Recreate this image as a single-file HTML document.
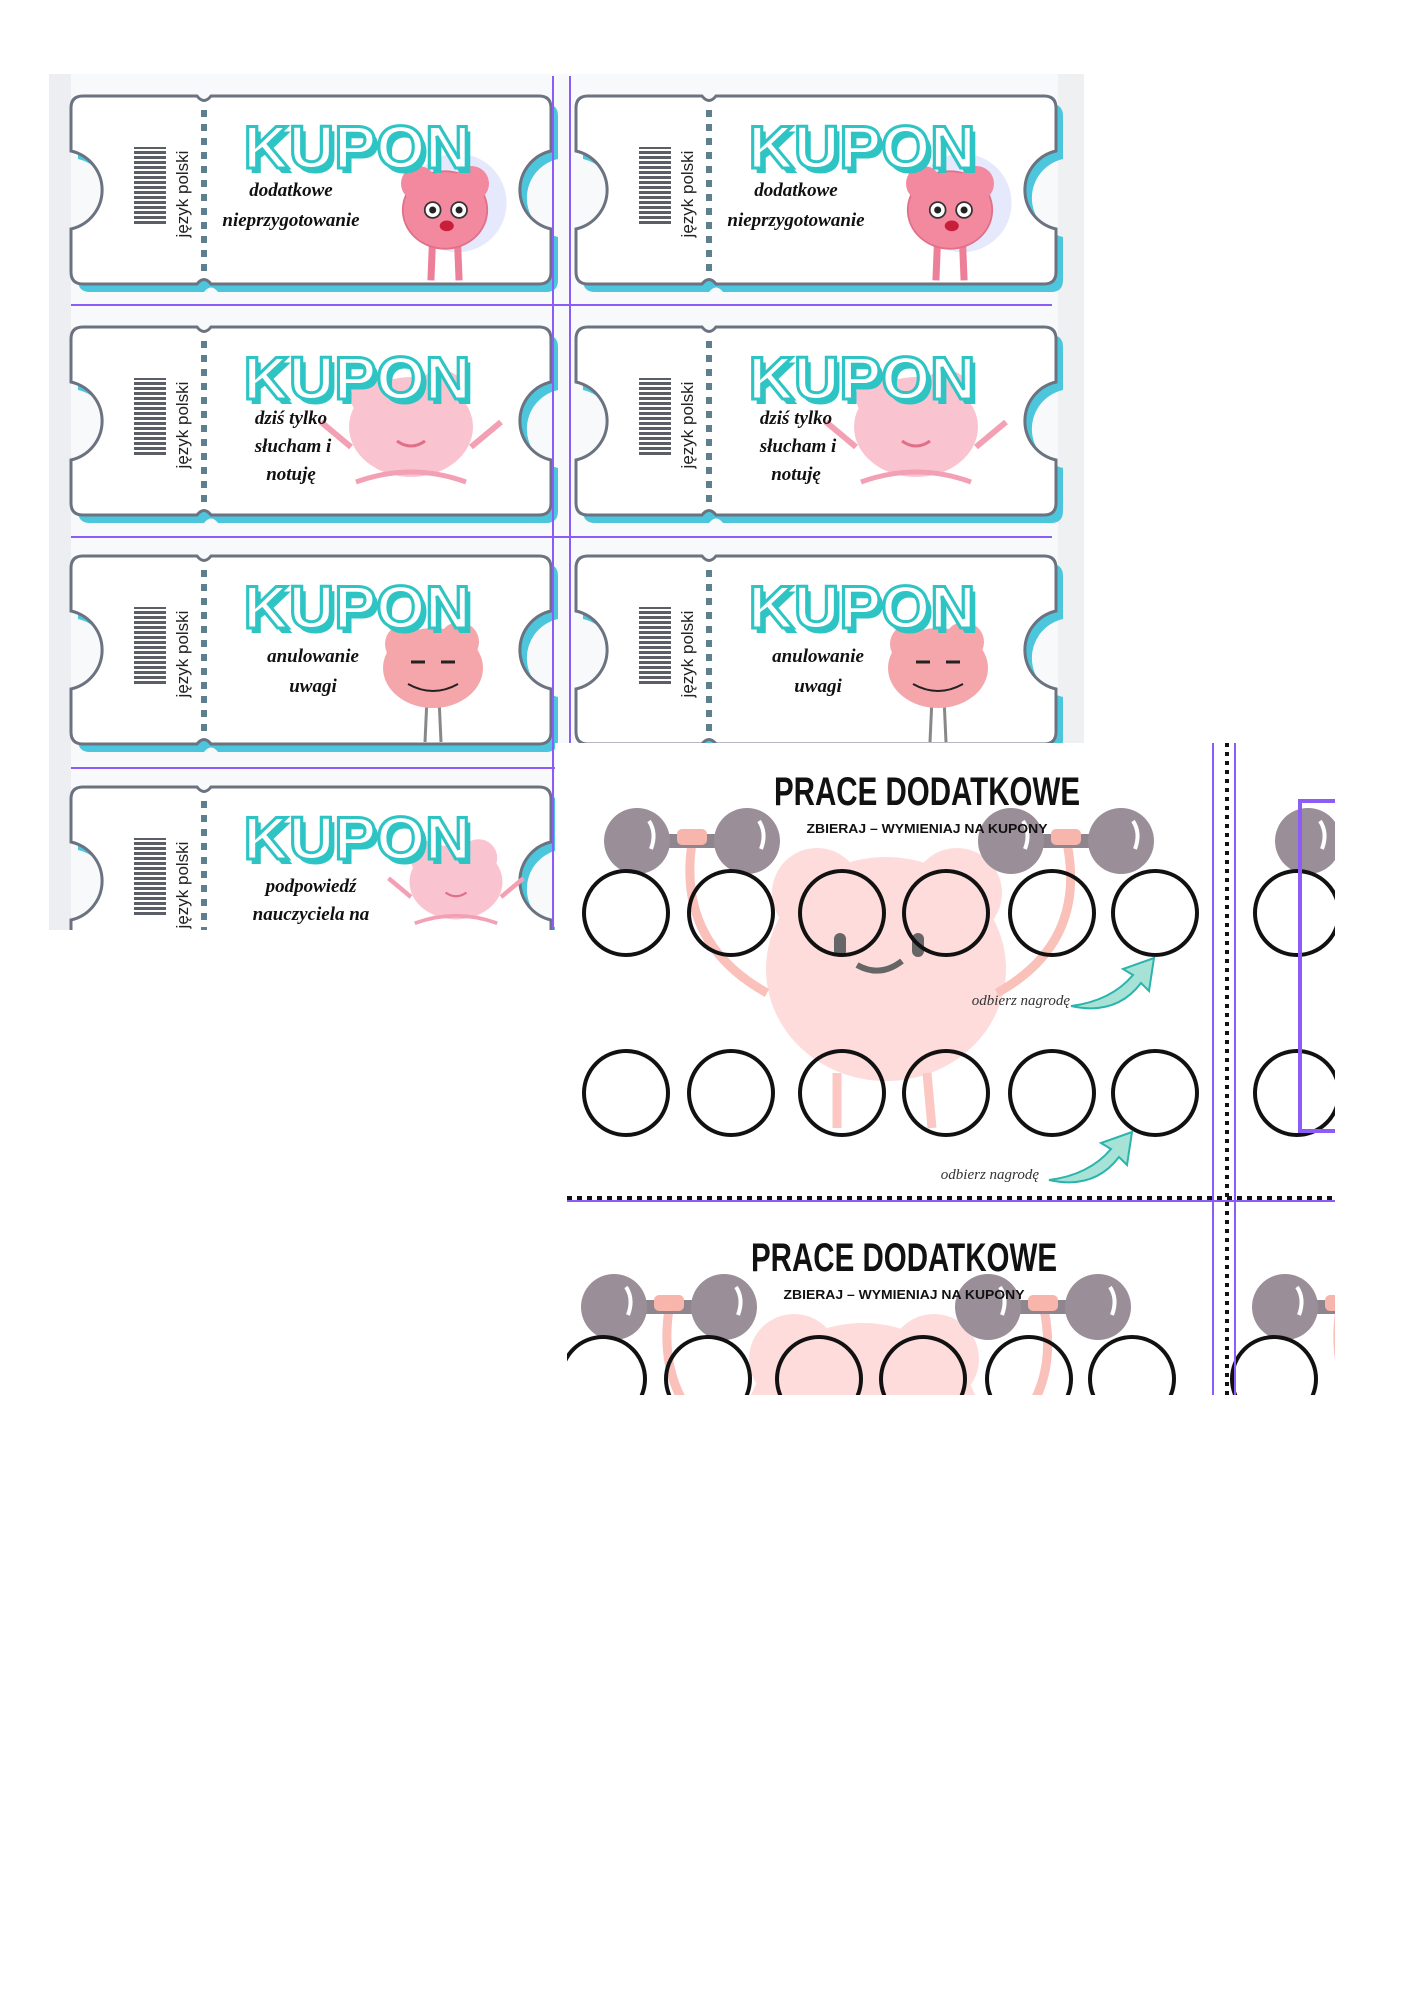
<!DOCTYPE html>
<html><head><meta charset="utf-8"><style>
html,body{margin:0;padding:0;background:#fff;}
svg{display:block;}
.kup{font-family:"Liberation Sans",sans-serif;font-weight:bold;font-size:60px;}
.scr{font-family:"Liberation Serif",serif;font-style:italic;font-weight:bold;font-size:19px;fill:#111;}
.jp{font-family:"Liberation Sans",sans-serif;font-size:17px;fill:#222;}
.pt{font-family:"Liberation Sans",sans-serif;font-weight:bold;font-size:40px;fill:#111;}
.ps{font-family:"Liberation Sans",sans-serif;font-weight:bold;font-size:13px;fill:#111;}
.od{font-family:"Liberation Serif",serif;font-style:italic;font-size:15px;fill:#333;}
</style></head><body>
<svg width="1414" height="2000" viewBox="0 0 1414 2000" xmlns="http://www.w3.org/2000/svg">
<defs>
<path id="tk" d="M12,0 H126 Q133,9 140,0 H468 Q480,0 480,12 V55 A40,40 0 0 0 480,133 V176 Q480,188 468,188 H140 Q133,179 126,188 H12 Q0,188 0,176 V133 A40,40 0 0 0 0,55 V12 Q0,0 12,0 Z"/>
<g id="cbg">
  <use href="#tk" transform="translate(7,8)" fill="#4cc6dc"/>
  <use href="#tk" fill="#fff" stroke="#6b7280" stroke-width="3"/>
  <line x1="133" y1="14" x2="133" y2="176" stroke="#5d7f8e" stroke-width="6" stroke-dasharray="7,7"/>
  <rect x="63" y="51" width="32" height="79" fill="url(#bc)"/>
  <text class="jp" transform="translate(117,98) rotate(-90)" text-anchor="middle">język polski</text>
</g>
<g id="ctx">
  <text class="kup" x="290" y="77" text-anchor="middle" fill="#2ec4c4" textLength="227" lengthAdjust="spacingAndGlyphs">KUPON</text>
  <text class="kup" x="286" y="72" text-anchor="middle" fill="#fff" stroke="#2ec4c4" stroke-width="3" textLength="227" lengthAdjust="spacingAndGlyphs">KUPON</text>
</g>
<pattern id="bc" width="32" height="5" patternUnits="userSpaceOnUse">
  <rect width="32" height="3" fill="#5b5e66"/>
</pattern>
<g id="brain1">
  <circle cx="14" cy="-8" r="56" fill="#e6e9fb"/>
  <line x1="-14" y1="30" x2="-16" y2="80" stroke="#ee7f98" stroke-width="8"/>
  <line x1="14" y1="30" x2="16" y2="80" stroke="#ee7f98" stroke-width="8"/>
  <ellipse cx="0" cy="0" rx="48" ry="44" fill="#f3899f" stroke="#e06f88" stroke-width="2"/>
  <circle cx="-30" cy="-30" r="20" fill="#f3899f"/><circle cx="30" cy="-30" r="20" fill="#f3899f"/>
  <circle cx="-14" cy="0" r="9" fill="#fff" stroke="#333" stroke-width="2"/><circle cx="-14" cy="0" r="4" fill="#222"/>
  <circle cx="16" cy="0" r="9" fill="#fff" stroke="#333" stroke-width="2"/><circle cx="16" cy="0" r="4" fill="#222"/>
  <ellipse cx="2" cy="18" rx="8" ry="6" fill="#c81e3a"/>
</g>
<g id="brain2">
  <path d="M-60,20 L-90,-5 M60,20 L90,-5" stroke="#f3a0b5" stroke-width="6" fill="none"/>
  <ellipse cx="0" cy="0" rx="62" ry="50" fill="#f9c4d0"/>
  <circle cx="-35" cy="-30" r="25" fill="#f9c4d0"/><circle cx="30" cy="-32" r="25" fill="#f9c4d0"/>
  <path d="M-55,55 Q0,35 55,55" stroke="#f3a0b5" stroke-width="5" fill="none"/>
  <path d="M-14,14 Q0,24 14,14" stroke="#e06f88" stroke-width="3" fill="none"/>
</g>
<g id="brain3">
  <line x1="-6" y1="30" x2="-8" y2="74" stroke="#888" stroke-width="3"/>
  <line x1="6" y1="30" x2="8" y2="74" stroke="#888" stroke-width="3"/>
  <ellipse cx="0" cy="0" rx="50" ry="40" fill="#f5a6ab"/>
  <circle cx="-28" cy="-24" r="20" fill="#f5a6ab"/><circle cx="26" cy="-26" r="20" fill="#f5a6ab"/>
  <path d="M-22,-6 h14 M8,-6 h14" stroke="#222" stroke-width="3"/>
  <path d="M-25,16 Q0,30 25,16" stroke="#222" stroke-width="2" fill="none"/>
</g>
<g id="dumb">
  <rect x="20" y="-7" width="70" height="14" fill="#8f858e"/>
  <circle cx="0" cy="0" r="33" fill="#9a8f98"/>
  <circle cx="110" cy="0" r="33" fill="#9a8f98"/>
  <path d="M12,-20 Q20,-8 14,8" stroke="#fff" stroke-width="4" fill="none"/>
  <path d="M122,-20 Q130,-8 124,8" stroke="#fff" stroke-width="4" fill="none"/>
  <rect x="40" y="-12" width="30" height="16" rx="5" fill="#f7b5ac"/>
</g>
<path id="arrow" d="M0,45 Q40,40 62,14 L52,8 L83,-3 L78,30 L70,22 Q45,55 0,45 Z" fill="#a6e3d6" stroke="#2bb4ad" stroke-width="2"/>
<g id="card">
  <ellipse cx="319" cy="226" rx="120" ry="112" fill="#fedcdc"/>
  <circle cx="250" cy="150" r="45" fill="#fedcdc"/><circle cx="390" cy="150" r="45" fill="#fedcdc"/>
  <path d="M125,100 Q110,200 200,250 M500,100 Q520,200 430,250" stroke="#f9c1ba" stroke-width="9" fill="none"/>
  <path d="M270,330 L270,385 M360,330 L365,385" stroke="#fbc8c3" stroke-width="9" fill="none"/>
  <rect x="267" y="190" width="12" height="24" rx="6" fill="#666"/>
  <rect x="345" y="190" width="12" height="24" rx="6" fill="#666"/>
  <path d="M290,222 Q313,235 335,218" stroke="#666" stroke-width="6" fill="none"/>
  <use href="#dumb" transform="translate(70,98)"/>
  <use href="#dumb" transform="translate(444,98)"/>
  <text class="pt" x="360" y="62" text-anchor="middle" textLength="306" lengthAdjust="spacingAndGlyphs">PRACE DODATKOWE</text>
  <text class="ps" x="360" y="90" text-anchor="middle" textLength="241" lengthAdjust="spacingAndGlyphs">ZBIERAJ – WYMIENIAJ NA KUPONY</text>
  <g fill="none" stroke="#111" stroke-width="4">
    <circle cx="59" cy="170" r="42"/><circle cx="164" cy="170" r="42"/><circle cx="275" cy="170" r="42"/>
    <circle cx="379" cy="170" r="42"/><circle cx="485" cy="170" r="42"/><circle cx="588" cy="170" r="42"/>
    <circle cx="59" cy="350" r="42"/><circle cx="164" cy="350" r="42"/><circle cx="275" cy="350" r="42"/>
    <circle cx="379" cy="350" r="42"/><circle cx="485" cy="350" r="42"/><circle cx="588" cy="350" r="42"/>
  </g>
  <use href="#arrow" transform="translate(504,218)"/>
  <text class="od" x="503" y="262" text-anchor="end">odbierz nagrodę</text>
  <use href="#arrow" transform="translate(482,392)"/>
  <text class="od" x="472" y="436" text-anchor="end">odbierz nagrodę</text>
</g>
<clipPath id="c1"><rect x="49" y="74" width="1035" height="669"/><rect x="49" y="743" width="506" height="187"/></clipPath>
<clipPath id="c2"><rect x="567" y="743" width="768" height="652"/></clipPath>
</defs>

<g clip-path="url(#c1)">
  <rect x="49" y="74" width="1035" height="669" fill="#f8f9fa"/>
  <rect x="49" y="743" width="506" height="187" fill="#f8f9fa"/>
  <rect x="49" y="74" width="22" height="860" fill="#eceef1"/>
  <rect x="1058" y="74" width="26" height="669" fill="#eef0f2"/>

  <!-- row 1 -->
  <g transform="translate(71,96)"><use href="#cbg"/><use href="#brain1" transform="translate(374,114) scale(0.88)"/><use href="#ctx"/>
    <text class="scr" x="220" y="100" text-anchor="middle">dodatkowe</text>
    <text class="scr" x="220" y="130" text-anchor="middle">nieprzygotowanie</text></g>
  <g transform="translate(576,96)"><use href="#cbg"/><use href="#brain1" transform="translate(374,114) scale(0.88)"/><use href="#ctx"/>
    <text class="scr" x="220" y="100" text-anchor="middle">dodatkowe</text>
    <text class="scr" x="220" y="130" text-anchor="middle">nieprzygotowanie</text></g>
  <!-- row 2 -->
  <g transform="translate(71,327)"><use href="#cbg"/><use href="#brain2" transform="translate(340,100)"/><use href="#ctx"/>
    <text class="scr" x="220" y="97" text-anchor="middle">dziś tylko</text>
    <text class="scr" x="222" y="125" text-anchor="middle">słucham i</text>
    <text class="scr" x="220" y="153" text-anchor="middle">notuję</text></g>
  <g transform="translate(576,327)"><use href="#cbg"/><use href="#brain2" transform="translate(340,100)"/><use href="#ctx"/>
    <text class="scr" x="220" y="97" text-anchor="middle">dziś tylko</text>
    <text class="scr" x="222" y="125" text-anchor="middle">słucham i</text>
    <text class="scr" x="220" y="153" text-anchor="middle">notuję</text></g>
  <!-- row 3 -->
  <g transform="translate(71,556)"><use href="#cbg"/><use href="#brain3" transform="translate(362,112)"/><use href="#ctx"/>
    <text class="scr" x="242" y="106" text-anchor="middle">anulowanie</text>
    <text class="scr" x="242" y="136" text-anchor="middle">uwagi</text></g>
  <g transform="translate(576,556)"><use href="#cbg"/><use href="#brain3" transform="translate(362,112)"/><use href="#ctx"/>
    <text class="scr" x="242" y="106" text-anchor="middle">anulowanie</text>
    <text class="scr" x="242" y="136" text-anchor="middle">uwagi</text></g>
  <!-- row 4 -->
  <g transform="translate(71,787)"><use href="#cbg"/><use href="#brain2" transform="translate(385,95) scale(0.75)"/><use href="#ctx"/>
    <text class="scr" x="240" y="105" text-anchor="middle">podpowiedź</text>
    <text class="scr" x="240" y="133" text-anchor="middle">nauczyciela na</text>
    <text class="scr" x="240" y="161" text-anchor="middle">sprawdzianie</text></g>

  <g stroke="#8b5cf6" stroke-width="2">
    <line x1="553" y1="76" x2="553" y2="930"/>
    <line x1="570" y1="76" x2="570" y2="743"/>
    <line x1="71" y1="305" x2="1052" y2="305"/>
    <line x1="71" y1="537" x2="1052" y2="537"/>
    <line x1="71" y1="768" x2="565" y2="768"/>
  </g>
</g>

<g clip-path="url(#c2)">
  <rect x="567" y="743" width="768" height="652" fill="#fff"/>
  <use href="#card" transform="translate(567,743)"/>
  <use href="#card" transform="translate(544,1209)"/>
  <use href="#card" transform="translate(1238,743)"/>
  <use href="#card" transform="translate(1215,1209)"/>
  <line x1="1227" y1="743" x2="1227" y2="1395" stroke="#111" stroke-width="4" stroke-dasharray="4,5"/>
  <line x1="567" y1="1198" x2="1335" y2="1198" stroke="#111" stroke-width="4" stroke-dasharray="5,5"/>
  <g stroke="#8b5cf6" stroke-width="2" fill="none">
    <line x1="1213" y1="743" x2="1213" y2="1395"/>
    <line x1="1235" y1="743" x2="1235" y2="1395"/>
    <line x1="567" y1="1201" x2="1335" y2="1201"/>
    <rect x="1300" y="801" width="60" height="330" stroke-width="4"/>
  </g>
</g>
</svg>
</body></html>
